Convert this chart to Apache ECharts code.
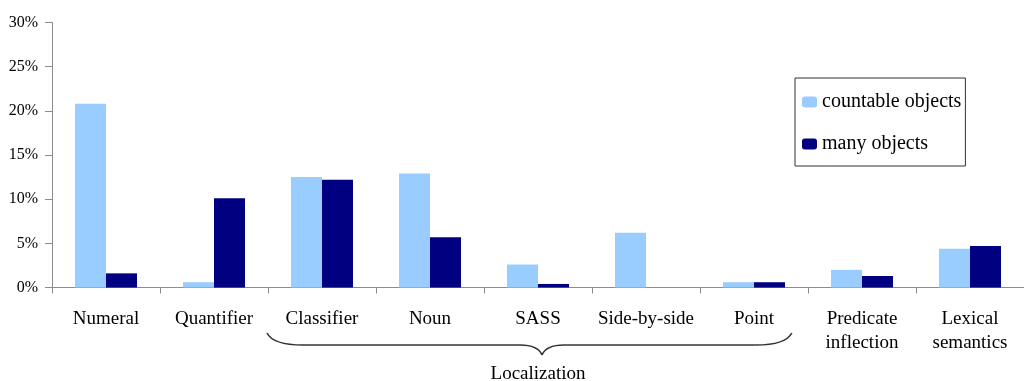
<!DOCTYPE html>
<html>
<head>
<meta charset="utf-8">
<script src="https://cdn.jsdelivr.net/npm/echarts@6/dist/echarts.min.js"></script>
<style>
  html, body { margin: 0; padding: 0; background: #fff; }
  #chart { width: 1024px; height: 381px; }
</style>
</head>
<body>
<div id="chart"></div>
<script>
// Share of responses by strategy (percent)
const categories = ['Numeral', 'Quantifier', 'Classifier', 'Noun', 'SASS', 'Side-by-side', 'Point', 'Predicate\ninflection', 'Lexical\nsemantics'];
const countableObjects = [20.8, 0.6, 12.5, 12.9, 2.6, 6.2, 0.6, 2.0, 4.4];
const manyObjects = [1.6, 10.1, 12.2, 5.7, 0.4, 0, 0.6, 1.3, 4.7];
const yTicks = [0, 5, 10, 15, 20, 25, 30];
const groupLabel = 'Localization';
const groupFrom = 'Classifier';
const groupTo = 'Point';

const serif = '"Liberation Serif", "DejaVu Serif", serif';
const axisGray = '#8c8c8c';

const chart = echarts.init(document.getElementById('chart'), null, { renderer: 'canvas' });

chart.setOption({
  animation: false,
  backgroundColor: '#ffffff',
  grid: { left: 52, top: 22.5, bottom: 93.5, width: 983, containLabel: false },
  legend: {
    orient: 'vertical',
    left: 795,
    top: 78,
    padding: [14, 4, 12, 7],
    itemWidth: 15,
    itemHeight: 11,
    itemGap: 22,
    itemTextGap: 2,
    borderColor: '#333',
    borderWidth: 1,
    backgroundColor: '#fff',
    textStyle: { fontFamily: serif, fontSize: 20, color: '#000' },
    data: ['countable objects', 'many objects']
  },
  xAxis: {
    type: 'category',
    data: categories,
    axisLine: { lineStyle: { color: axisGray, width: 1 } },
    axisTick: { show: true, length: 6, lineStyle: { color: axisGray } },
    axisLabel: {
      interval: 0,
      margin: 20,
      fontFamily: serif,
      fontSize: 19,
      lineHeight: 24,
      color: '#000'
    }
  },
  yAxis: {
    type: 'value',
    min: yTicks[0],
    max: yTicks[yTicks.length - 1],
    interval: yTicks[1] - yTicks[0],
    axisLine: { show: true, lineStyle: { color: axisGray, width: 1 } },
    axisTick: { show: true, length: 7, lineStyle: { color: axisGray } },
    splitLine: { show: false },
    axisLabel: {
      margin: 14,
      fontFamily: serif,
      fontSize: 16,
      color: '#000',
      formatter: '{value}%'
    }
  },
  series: [
    {
      name: 'countable objects',
      type: 'bar',
      data: countableObjects,
      barWidth: 31,
      barGap: '0%',
      itemStyle: { color: '#99ccff' }
    },
    {
      name: 'many objects',
      type: 'bar',
      data: manyObjects,
      barWidth: 31,
      barGap: '0%',
      itemStyle: { color: '#000080' }
    }
  ]
});

// Curly brace grouping the localization strategies under the axis labels
function drawBrace() {
  const iFrom = categories.indexOf(groupFrom);
  const iTo = categories.indexOf(groupTo);
  const xFrom = chart.convertToPixel({ xAxisIndex: 0 }, iFrom);
  const xTo = chart.convertToPixel({ xAxisIndex: 0 }, iTo);
  const band = chart.convertToPixel({ xAxisIndex: 0 }, iFrom + 1) - xFrom;
  const axisY = chart.convertToPixel({ yAxisIndex: 0 }, 0);

  const left = xFrom - band / 2 - 1;
  const right = xTo + band * 0.35;
  const center = (xFrom - band / 2 + xTo + band / 2) / 2;
  const mid = center + 4;
  const yEnd = axisY + 45.5;
  const yBar = axisY + 57.5;
  const yTip = axisY + 67.5;

  const stroke = { stroke: '#333', lineWidth: 1.6, fill: null };
  const curve = (x1, y1, cx, cy, x2, y2) => ({
    type: 'bezierCurve',
    shape: { x1: x1, y1: y1, cpx1: cx, cpy1: cy, x2: x2, y2: y2 },
    style: stroke,
    silent: true
  });
  const seg = (x1, y1, x2, y2) => ({
    type: 'line',
    shape: { x1: x1, y1: y1, x2: x2, y2: y2 },
    style: stroke,
    silent: true
  });

  chart.setOption({
    graphic: [
      curve(left, yEnd, left + 6, yBar, left + 36, yBar),
      seg(left + 36, yBar, mid - 22, yBar),
      curve(mid - 22, yBar, mid - 4, yBar, mid, yTip),
      curve(mid, yTip, mid + 4, yBar, mid + 22, yBar),
      seg(mid + 22, yBar, right - 36, yBar),
      curve(right - 36, yBar, right - 6, yBar, right, yEnd),
      {
        type: 'text',
        x: center,
        y: axisY + 86.5,
        style: {
          text: groupLabel,
          fontFamily: serif,
          fontSize: 19,
          fill: '#000',
          align: 'center',
          verticalAlign: 'middle'
        },
        silent: true
      }
    ]
  });
}

drawBrace();
</script>
</body>
</html>
